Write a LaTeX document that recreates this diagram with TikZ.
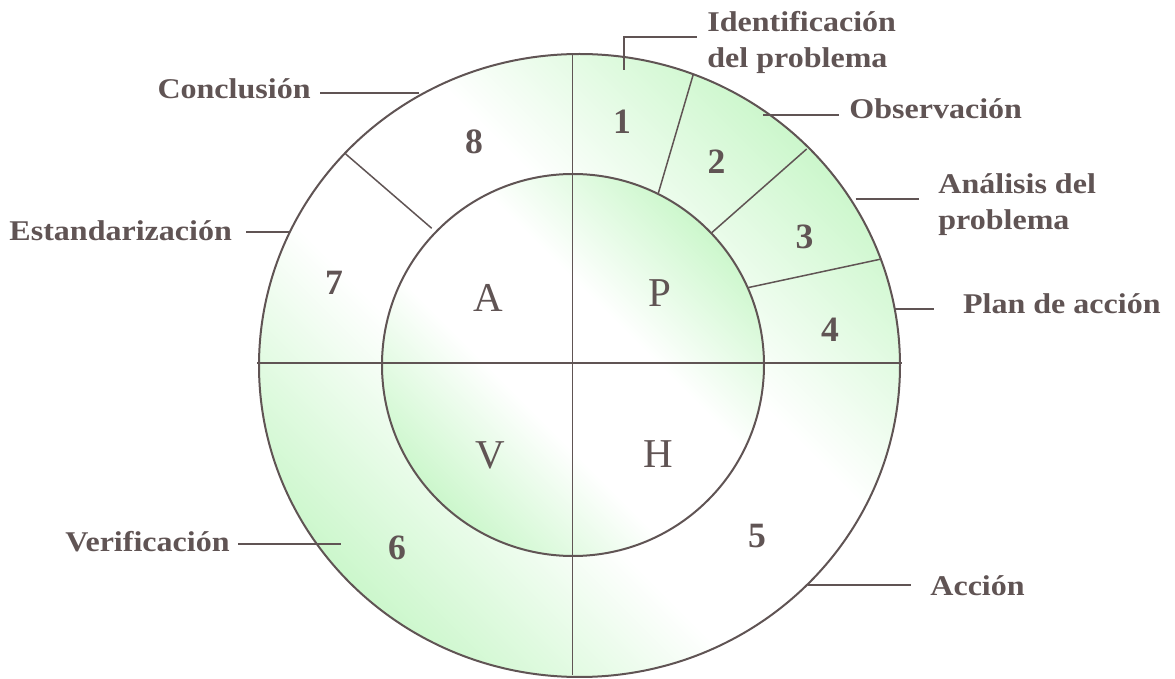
\documentclass[tikz,border=0pt]{standalone}
\usepackage{fontspec}
\usepackage{tikz}
\usepackage{xcolor}
\setmainfont{Liberation Serif}
\newfontfamily\labelfont{Liberation Serif}[FakeStretch=1.12]
\usetikzlibrary{positioning}
\definecolor{ink}{RGB}{96,84,84}
\definecolor{leafgreen}{RGB}{204,247,204}
\pgfdeclarehorizontalshading{ringshade}{100bp}{color(0bp)=(leafgreen); color(25bp)=(leafgreen); color(42bp)=(white); color(58bp)=(white); color(75bp)=(leafgreen); color(100bp)=(leafgreen)}

\begin{document}
\begin{tikzpicture}[
    x=0.5pt, y=-0.5pt,
    every node/.style={text=ink, inner sep=0pt},
    stage/.style={font=\labelfont\bfseries\fontsize{14.3}{18}\selectfont, align=left},
    stagenum/.style={font=\bfseries\fontsize{17.8}{20}\selectfont},
    phase/.style={font=\fontsize{20.5}{22}\selectfont},
    ring/.style={draw=ink, line width=1pt, shading=ringshade, shading angle=45},
    divider/.style={draw=ink, line width=0.75pt},
    leader/.style={draw=ink, line width=1pt}
]
\useasboundingbox (0,0) rectangle (1175,679);

% Rings
\shade[ring] (579.5,365.5) ellipse [x radius=160.25pt, y radius=155.75pt];
\shade[ring] (573,365) circle [radius=95.5pt];

% Dividers
\draw[divider] (572.7,54) -- (572.7,675);
\draw[divider] (257,363) -- (902,363);
\draw[divider] (658.3,193.3) -- (693.3,74.3);
\draw[divider] (711.7,232.7) -- (806.7,149);
\draw[divider] (747.7,287.7) -- (880,259.3);
\draw[divider] (431.7,228.3) -- (345.7,154);

% Phases
\node[phase] (pa) at (488.5,298) {A};
\node[phase] (pp) at (660,293) {P};
\node[phase] (pv) at (490,455) {V};
\node[phase] (ph) at (658,454) {H};

% Steps
\node[stagenum] (n1) at (622,122) {1};
\node[stagenum] (n2) at (716.5,162) {2};
\node[stagenum] (n3) at (804.5,237) {3};
\node[stagenum] (n4) at (830,330) {4};
\node[stagenum] (n5) at (757,536) {5};
\node[stagenum] (n6) at (397,548) {6};
\node[stagenum] (n7) at (334,283) {7};
\node[stagenum] (n8) at (474,142) {8};

% Labels (base = last line)
\node[stage, anchor=base west] (ident) at (707,68) {Identificación\\del problema};
\node[stage, anchor=base west] (obs) at (849,119) {Observación};
\node[stage, anchor=base west] (anal) at (938,230) {Análisis del\\problema};
\node[stage, anchor=base west] (plan) at (962.7,313.3) {Plan de acción};
\node[stage, anchor=base west] (accion) at (930,596) {Acción};
\node[stage, anchor=base east] (verif) at (230,551.7) {Verificación};
\node[stage, anchor=base east] (estand) at (232.3,241) {Estandarización};
\node[stage, anchor=base east] (concl) at (311,99) {Conclusión};

% Leaders
\coordinate (ident-pt) at (624,70);
\coordinate (ident-end) at (697,37.3);
\coordinate (obs-pt) at (763.3,115);
\coordinate (obs-end) at (839,115);
\coordinate (anal-pt) at (855.7,199.3);
\coordinate (anal-end) at (919.3,199.3);
\coordinate (plan-pt) at (895,309.3);
\coordinate (plan-end) at (934.3,309.3);
\coordinate (accion-pt) at (808.3,585);
\coordinate (accion-end) at (910.7,585);
\coordinate (verif-pt) at (340.7,544);
\coordinate (verif-end) at (238.3,544);
\coordinate (estand-pt) at (290,232.3);
\coordinate (estand-end) at (245.7,232.3);
\coordinate (concl-pt) at (419.3,92.7);
\coordinate (concl-end) at (320,92.7);

\draw[leader] (ident-pt) |- (ident-end);
\draw[leader] (obs-pt) -- (obs-end);
\draw[leader] (anal-pt) -- (anal-end);
\draw[leader] (plan-pt) -- (plan-end);
\draw[leader] (accion-pt) -- (accion-end);
\draw[leader] (verif-pt) -- (verif-end);
\draw[leader] (estand-pt) -- (estand-end);
\draw[leader] (concl-pt) -- (concl-end);

\end{tikzpicture}
\end{document}
